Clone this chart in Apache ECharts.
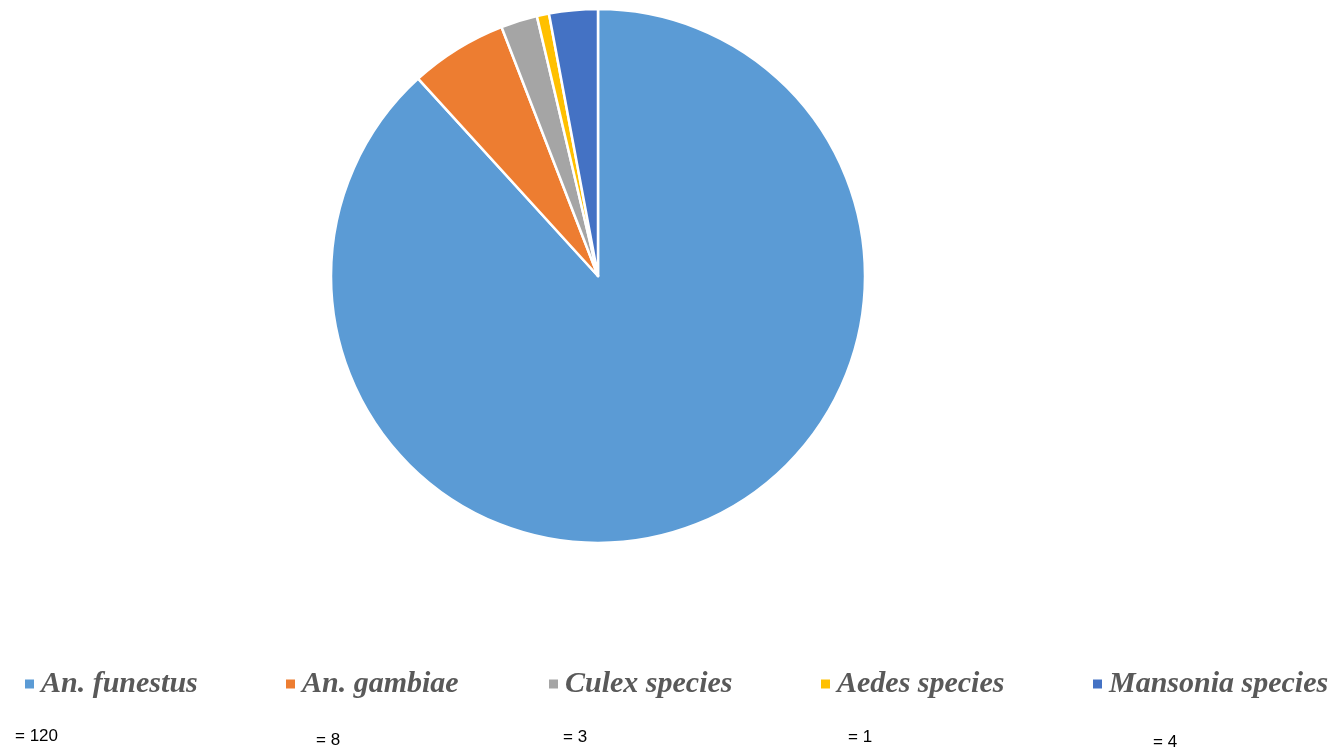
<!DOCTYPE html>
<html><head><meta charset="utf-8">
<script src="https://cdn.jsdelivr.net/npm/echarts@6/dist/echarts.min.js"></script>
<style>html,body{margin:0;padding:0;background:#fff}#c{width:1338px;height:753px}</style>
</head><body><div id="c"></div>
<script>
const categories = ['An. funestus', 'An. gambiae', 'Culex species', 'Aedes species', 'Mansonia species'];
const counts = [120, 8, 3, 1, 4];
const colors = ['#5B9BD5', '#ED7D31', '#A5A5A5', '#FFC000', '#4472C4'];

const legendLefts = [23, 284, 547, 819, 1091];
const countPos = [[15, 736], [316, 740], [563, 737.5], [848, 737.5], [1153, 742.5]];

const chart = echarts.init(document.getElementById('c'));
const legends = categories.map((name, i) => ({
  data: [name],
  left: legendLefts[i],
  top: 669,
  orient: 'horizontal',
  icon: 'rect',
  itemWidth: 11,
  itemHeight: 11,
  itemGap: 0,
  padding: 0,
  selectedMode: false,
  textStyle: {
    fontFamily: 'Liberation Serif',
    fontStyle: 'italic',
    fontWeight: 'bold',
    fontSize: 30,
    lineHeight: 30,
    color: '#595959',
    padding: [0, 0, 0, 1]
  }
}));

chart.setOption({
  animation: false,
  color: colors,
  legend: legends,
  series: [{
    type: 'pie',
    center: [598, 276],
    radius: 267,
    startAngle: 90,
    clockwise: true,
    label: { show: false },
    labelLine: { show: false },
    emphasis: { disabled: true },
    itemStyle: { borderColor: '#fff', borderWidth: 2.5 },
    data: categories.map((n, i) => ({ name: n, value: counts[i] }))
  }],
  graphic: counts.map((v, i) => ({
    type: 'text',
    x: countPos[i][0],
    y: countPos[i][1],
    style: {
      text: '= ' + v,
      fontFamily: 'Liberation Sans',
      fontSize: 17,
      fill: '#000',
      textAlign: 'left',
      textVerticalAlign: 'middle'
    }
  }))
});
</script></body></html>
